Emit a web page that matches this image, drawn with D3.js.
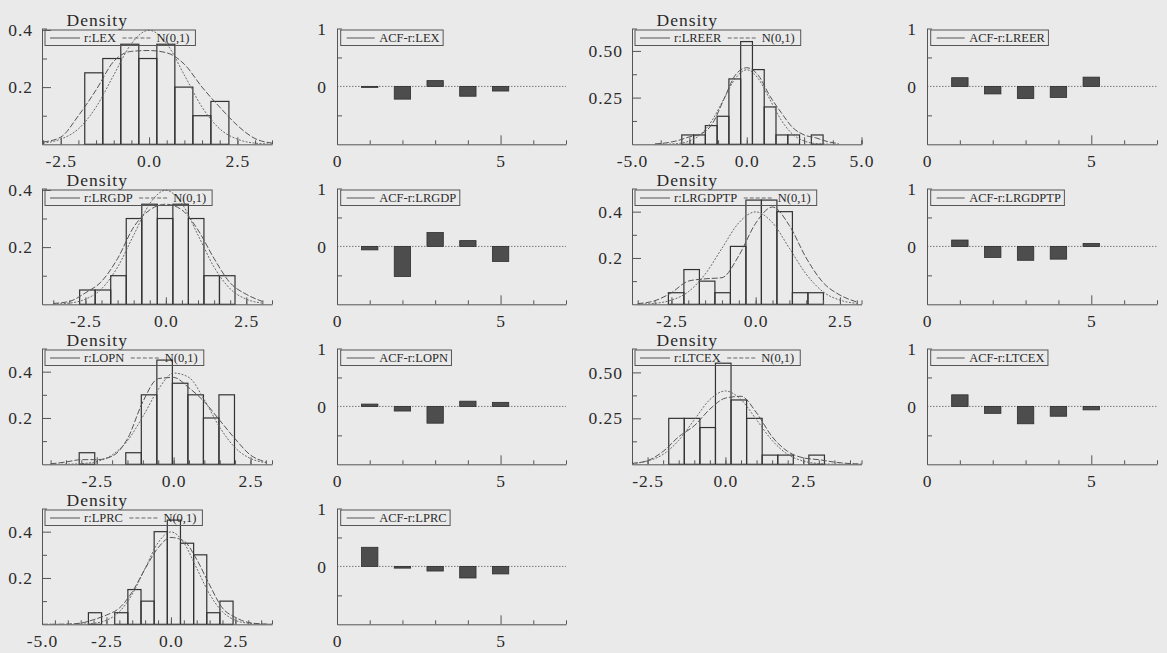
<!DOCTYPE html>
<html>
<head>
<meta charset="utf-8">
<script src="https://cdnjs.cloudflare.com/ajax/libs/d3/7.8.5/d3.min.js"></script>
<style>
  body { margin: 0; background: #eaeaea; }
  svg { display: block; font-family: "Liberation Serif", "DejaVu Serif", serif; }
</style>
</head>
<body>
<div id="chart"></div>
<script>
// series in grid order (row by row, two pairs per row)
const names = ["LEX", "LREER", "LRGDP", "LRGDPTP", "LOPN", "LTCEX", "LPRC"];

// histogram: first bin edge, bin width, densities
const binStart = [-1.82, -2.83, -2.68, -2.59, -3.07, -1.82, -3.2];
const binWidth = [0.51, 0.513, 0.483, 0.46, 0.505, 0.5, 0.51];
const histLEX = [0.25, 0.30, 0.35, 0.30, 0.35, 0.20, 0.10, 0.15];
const histLREER = [0.05, 0.05, 0.10, 0.15, 0.35, 0.55, 0.40, 0.20, 0.05, 0.05, 0, 0.05];
const histLRGDP = [0.05, 0.05, 0.10, 0.30, 0.35, 0.30, 0.35, 0.30, 0.10, 0.10];
const histLRGDPTP = [0.05, 0.15, 0.10, 0.05, 0.25, 0.45, 0.45, 0.40, 0.05, 0.05];
const histLOPN = [0.05, 0, 0, 0.05, 0.30, 0.45, 0.35, 0.30, 0.20, 0.30];
const histLTCEX = [0.25, 0.25, 0.20, 0.55, 0.35, 0.25, 0.05, 0.05, 0, 0.05];
const histLPRC = [0.05, 0, 0.05, 0.15, 0.10, 0.40, 0.45, 0.35, 0.30, 0.05, 0.10];
const hists = [histLEX, histLREER, histLRGDP, histLRGDPTP, histLOPN, histLTCEX, histLPRC];

const gridLEX = [-3, -2.5, -2, -1.5, -1, -0.5, 0, 0.5, 1, 1.5, 2, 2.5, 3, 3.5];
const gridLREER = [-4, -3.5, -3, -2.5, -2, -1.5, -1, -0.5, 0, 0.5, 1, 1.5, 2, 2.5, 3, 3.5, 4];
const gridLRGDP = [-3.5, -3, -2.5, -2, -1.5, -1, -0.5, 0, 0.5, 1, 1.5, 2, 2.5, 3];
const gridLOPN = [-4, -3.5, -3, -2.5, -2, -1.5, -1, -0.5, 0, 0.5, 1, 1.5, 2, 2.5, 3];
const gridLTCEX = [-3, -2.5, -2, -1.5, -1, -0.5, 0, 0.5, 1, 1.5, 2, 2.5, 3, 3.5, 4, 4.5];
const gridLPRC = [-5, -4.5, -4, -3.5, -3, -2.5, -2, -1.5, -1, -0.5, 0, 0.5, 1, 1.5, 2, 2.5, 3, 3.5, 4];
const grids = [gridLEX, gridLREER, gridLRGDP, gridLRGDP, gridLOPN, gridLTCEX, gridLPRC];

// estimated density of the residuals
const kdLEX = [0.008, 0.025, 0.10, 0.19, 0.29, 0.325, 0.328, 0.32, 0.28, 0.20, 0.13, 0.066, 0.02, 0.004];
const kdLREER = [0.002, 0.008, 0.02, 0.04, 0.055, 0.11, 0.24, 0.37, 0.41, 0.37, 0.26, 0.17, 0.09, 0.05, 0.035, 0.015, 0.004];
const kdLRGDP = [0.003, 0.01, 0.04, 0.08, 0.16, 0.27, 0.33, 0.35, 0.33, 0.26, 0.16, 0.075, 0.035, 0.01];
const kdLRGDPTP = [0.003, 0.015, 0.05, 0.10, 0.11, 0.115, 0.21, 0.35, 0.42, 0.34, 0.20, 0.094, 0.04, 0.01];
const kdLOPN = [0.002, 0.01, 0.02, 0.02, 0.035, 0.11, 0.27, 0.37, 0.375, 0.33, 0.27, 0.19, 0.11, 0.04, 0.01];
const kdLTCEX = [0.005, 0.02, 0.07, 0.15, 0.21, 0.3, 0.36, 0.37, 0.28, 0.15, 0.07, 0.035, 0.025, 0.012, 0.004, 0.001];
const kdLPRC = [0, 0, 0.001, 0.005, 0.02, 0.04, 0.07, 0.14, 0.24, 0.33, 0.375, 0.36, 0.28, 0.17, 0.07, 0.03, 0.008, 0.002, 0];
const kds = [kdLEX, kdLREER, kdLRGDP, kdLRGDPTP, kdLOPN, kdLTCEX, kdLPRC];

// N(0,1) reference curve as drawn
const nLEX = [0.004, 0.018, 0.054, 0.13, 0.242, 0.352, 0.399, 0.352, 0.242, 0.13, 0.054, 0.018, 0.004, 0.001];
const nLREER = [0.0001, 0.0009, 0.004, 0.018, 0.054, 0.13, 0.242, 0.352, 0.399, 0.352, 0.242, 0.13, 0.054, 0.018, 0.004, 0.0009, 0.0001];
const nLRGDP = [0.0009, 0.004, 0.018, 0.054, 0.13, 0.242, 0.352, 0.399, 0.352, 0.242, 0.13, 0.054, 0.018, 0.004];
const nLOPN = [0.0001, 0.0005, 0.003, 0.012, 0.04, 0.102, 0.206, 0.323, 0.394, 0.375, 0.278, 0.16, 0.072, 0.025, 0.007];
const nLTCEX = [0.004, 0.018, 0.054, 0.13, 0.242, 0.352, 0.399, 0.352, 0.242, 0.13, 0.054, 0.018, 0.004, 0.0009, 0.0001, 0];
const nLPRC = [0, 0, 0.0001, 0.0009, 0.0044, 0.0175, 0.054, 0.13, 0.242, 0.352, 0.399, 0.352, 0.242, 0.13, 0.054, 0.0175, 0.0044, 0.0009, 0.0001];
const norms = [nLEX, nLREER, nLRGDP, nLRGDP, nLOPN, nLTCEX, nLPRC];

// autocorrelations, lags 1..5
const acfLEX = [-0.01, -0.22, 0.10, -0.17, -0.08];
const acfLREER = [0.15, -0.13, -0.21, -0.19, 0.16];
const acfLRGDP = [-0.06, -0.52, 0.24, 0.10, -0.26];
const acfLRGDPTP = [0.11, -0.19, -0.24, -0.22, 0.05];
const acfLOPN = [0.04, -0.08, -0.29, 0.09, 0.07];
const acfLTCEX = [0.20, -0.12, -0.30, -0.17, -0.06];
const acfLPRC = [0.33, -0.03, -0.08, -0.20, -0.13];
const acfs = [acfLEX, acfLREER, acfLRGDP, acfLRGDPTP, acfLOPN, acfLTCEX, acfLPRC];
const lags = [1, 2, 3, 4, 5];

// axis ranges and tick labels
const xDom = [[-3.03, 3.48], [-5, 5], [-3.85, 3.3], [-3.67, 3.14], [-4.28, 3.2], [-3.0, 4.37], [-5, 3.92]];
const yTop = [0.405, 0.62, 0.405, 0.50, 0.50, 0.63, 0.50];
const xTicks = [[-2.5, 0, 2.5], [-5, -2.5, 0, 2.5, 5], [-2.5, 0, 2.5], [-2.5, 0, 2.5], [-2.5, 0, 2.5], [-2.5, 0, 2.5], [-5, -2.5, 0, 2.5]];
const xMinorStep = [0.5, 1.25, 0.5, 0.5, 0.5, 0.5, 0.5];
const yTicks = [[0.2, 0.4], [0.25, 0.5], [0.2, 0.4], [0.2, 0.4], [0.2, 0.4], [0.25, 0.5], [0.2, 0.4]];

const W = 1167, H = 653;
const ink = "#2b2b2b", axisInk = "#555";

const svg = d3.select("#chart").append("svg").attr("width", W).attr("height", H);
svg.append("rect").attr("width", W).attr("height", H).attr("fill", "#eaeaea");

const histCols = [[42, 272], [632, 861.5]];
const acfCols = [[337, 566], [927, 1157]];
const rowTop = 28.5, rowBottom = 144.3, rowStep = 160;

function styleAxis(a) {
  a.attr("font-family", null).attr("font-size", null);
  a.select(".domain").attr("stroke", axisInk);
  a.selectAll(".tick line").attr("stroke", axisInk);
  a.selectAll(".tick text")
    .attr("fill", ink)
    .style("font-size", "17.5px")
    .style("letter-spacing", "1px");
}

function legend(g, bx, by, items, lineStart, lineLen, textGap, itemGap, endPad) {
  const box = g.append("rect")
    .attr("x", bx).attr("y", by).attr("height", 15.5)
    .attr("fill", "none").attr("stroke", axisInk).attr("stroke-width", 1);
  let cur = bx + lineStart;
  let end = cur;
  items.forEach((it, k) => {
    g.append("line")
      .attr("x1", cur).attr("x2", cur + lineLen)
      .attr("y1", by + 8).attr("y2", by + 8)
      .attr("stroke", it.color).attr("stroke-width", 1)
      .attr("stroke-dasharray", it.dash);
    const t = g.append("text")
      .attr("x", cur + lineLen + textGap).attr("y", by + 12)
      .attr("fill", ink).style("font-size", "12.5px")
      .text(it.label);
    end = cur + lineLen + textGap + t.node().getComputedTextLength();
    cur = end + itemGap;
  });
  box.attr("width", end + endPad - bx);
}

function drawHist(i, x0, x1, top, bottom) {
  const g = svg.append("g");
  const x = d3.scaleLinear().domain(xDom[i]).range([x0, x1]);
  const y = d3.scaleLinear().domain([0, yTop[i]]).range([bottom, top]);

  const clipId = "clip" + i;
  g.append("clipPath").attr("id", clipId)
    .append("rect").attr("x", x0).attr("y", top - 20).attr("width", x1 - x0).attr("height", bottom - top + 20);

  const bins = hists[i].map((h, k) => ({
    a: binStart[i] + k * binWidth[i],
    b: binStart[i] + (k + 1) * binWidth[i],
    h: h
  })).filter(d => d.h > 0);

  g.selectAll("rect.bin")
    .data(bins)
    .enter()
    .append("rect")
      .classed("bin", true)
      .attr("x", d => x(d.a))
      .attr("width", d => x(d.b) - x(d.a))
      .attr("y", d => y(d.h))
      .attr("height", d => y(0) - y(d.h))
      .attr("fill", "none")
      .attr("stroke", "#333")
      .attr("stroke-width", 1.2);

  const line = d3.line()
    .x(d => x(d[0]))
    .y(d => y(d[1]))
    .curve(d3.curveMonotoneX);
  const grid = grids[i];
  const curves = g.append("g").attr("clip-path", "url(#" + clipId + ")");
  curves.append("path")
    .attr("d", line(grid.map((v, k) => [v, norms[i][k]])))
    .attr("fill", "none").attr("stroke", "#6a6a6a").attr("stroke-width", 1)
    .attr("stroke-dasharray", "2,1.5");
  curves.append("path")
    .attr("d", line(grid.map((v, k) => [v, kds[i][k]])))
    .attr("fill", "none").attr("stroke", "#555").attr("stroke-width", 1)
    .attr("stroke-dasharray", "6,2");

  // x axis: minor ticks, then major ticks with labels
  const minor = d3.range(Math.ceil(xDom[i][0] / xMinorStep[i]) * xMinorStep[i], xDom[i][1] + 1e-9, xMinorStep[i]);
  const xaMinor = g.append("g").attr("transform", `translate(0,${bottom})`)
    .call(d3.axisBottom(x).tickValues(minor.concat([xDom[i][1]])).tickSizeInner(-4).tickSizeOuter(0).tickFormat(""));
  styleAxis(xaMinor);
  const xa = g.append("g").attr("transform", `translate(0,${bottom})`)
    .call(d3.axisBottom(x).tickValues(xTicks[i]).tickSizeInner(-7).tickSizeOuter(0).tickPadding(10.5)
      .tickFormat(v => v.toFixed(1)));
  styleAxis(xa);
  xa.select(".domain").remove();

  // y axis
  const step = yTicks[i][0];
  const yaMinor = g.append("g").attr("transform", `translate(${x0},0)`)
    .call(d3.axisLeft(y).tickValues([step / 2, step * 1.5, yTop[i]]).tickSizeInner(-5).tickSizeOuter(0).tickFormat(""));
  styleAxis(yaMinor);
  const dec = step === 0.25 ? 2 : 1;
  const ya = g.append("g").attr("transform", `translate(${x0},0)`)
    .call(d3.axisLeft(y).tickValues(yTicks[i]).tickSizeInner(-9).tickSizeOuter(0).tickPadding(9)
      .tickFormat(v => v.toFixed(dec)));
  styleAxis(ya);
  ya.select(".domain").remove();

  g.append("text")
    .attr("x", x0 + 24.5).attr("y", top - 3)
    .attr("fill", ink).style("font-size", "17.5px").style("letter-spacing", "1px")
    .text("Density");

  legend(g, x0 + 3, top + 1.5, [
    {label: "r:" + names[i], dash: null, color: "#555"},
    {label: "N(0,1)", dash: "4,2", color: "#666"}
  ], 5, 30, 4, 6.5, 6);
}

function drawAcf(i, x0, x1, top, bottom) {
  const g = svg.append("g");
  const x = d3.scaleLinear().domain([0, 7]).range([x0, x1]);
  const y = d3.scaleLinear().domain([-1, 1]).range([bottom, top]);

  g.append("line")
    .attr("x1", x0).attr("x2", x1)
    .attr("y1", y(0)).attr("y2", y(0))
    .attr("stroke", "#7a7a7a").attr("stroke-width", 1)
    .attr("stroke-dasharray", "1.5,1.5");

  g.selectAll("rect.acf")
    .data(lags.map((l, k) => ({lag: l, v: acfs[i][k]})))
    .enter()
    .append("rect")
      .classed("acf", true)
      .attr("x", d => x(d.lag - 0.25))
      .attr("width", d => x(d.lag + 0.25) - x(d.lag - 0.25))
      .attr("y", d => y(Math.max(0, d.v)))
      .attr("height", d => Math.max(1, Math.abs(y(d.v) - y(0))))
      .attr("fill", "#4d4d4d")
      .attr("stroke", "#2e2e2e")
      .attr("stroke-width", 0.8);

  const xaMinor = g.append("g").attr("transform", `translate(0,${bottom})`)
    .call(d3.axisBottom(x).tickValues([1, 2, 3, 4, 6, 7]).tickSizeInner(-4).tickSizeOuter(0).tickFormat(""));
  styleAxis(xaMinor);
  const xa = g.append("g").attr("transform", `translate(0,${bottom})`)
    .call(d3.axisBottom(x).tickValues([0, 5]).tickSizeInner(-9).tickSizeOuter(0).tickPadding(10.5)
      .tickFormat(d3.format("d")));
  styleAxis(xa);
  xa.select(".domain").remove();

  const yaMinor = g.append("g").attr("transform", `translate(${x0},0)`)
    .call(d3.axisLeft(y).tickValues([-0.5, 0.5, 1]).tickSizeInner(-5).tickSizeOuter(0).tickFormat(""));
  styleAxis(yaMinor);
  const ya = g.append("g").attr("transform", `translate(${x0},0)`)
    .call(d3.axisLeft(y).tickValues([0, 1]).tickSizeInner(0).tickSizeOuter(0).tickPadding(10)
      .tickFormat(d3.format("d")));
  styleAxis(ya);
  ya.select(".domain").remove();

  legend(g, x0 + 3.7, top + 1.5, [
    {label: "ACF-r:" + names[i], dash: null, color: "#555"}
  ], 6, 28, 4.5, 0, 3.5);
}

names.forEach((name, i) => {
  const r = Math.floor(i / 2), c = i % 2;
  const top = rowTop + r * rowStep, bottom = rowBottom + r * rowStep;
  drawHist(i, histCols[c][0], histCols[c][1], top, bottom);
  drawAcf(i, acfCols[c][0], acfCols[c][1], top, bottom);
});
</script>
</body>
</html>
